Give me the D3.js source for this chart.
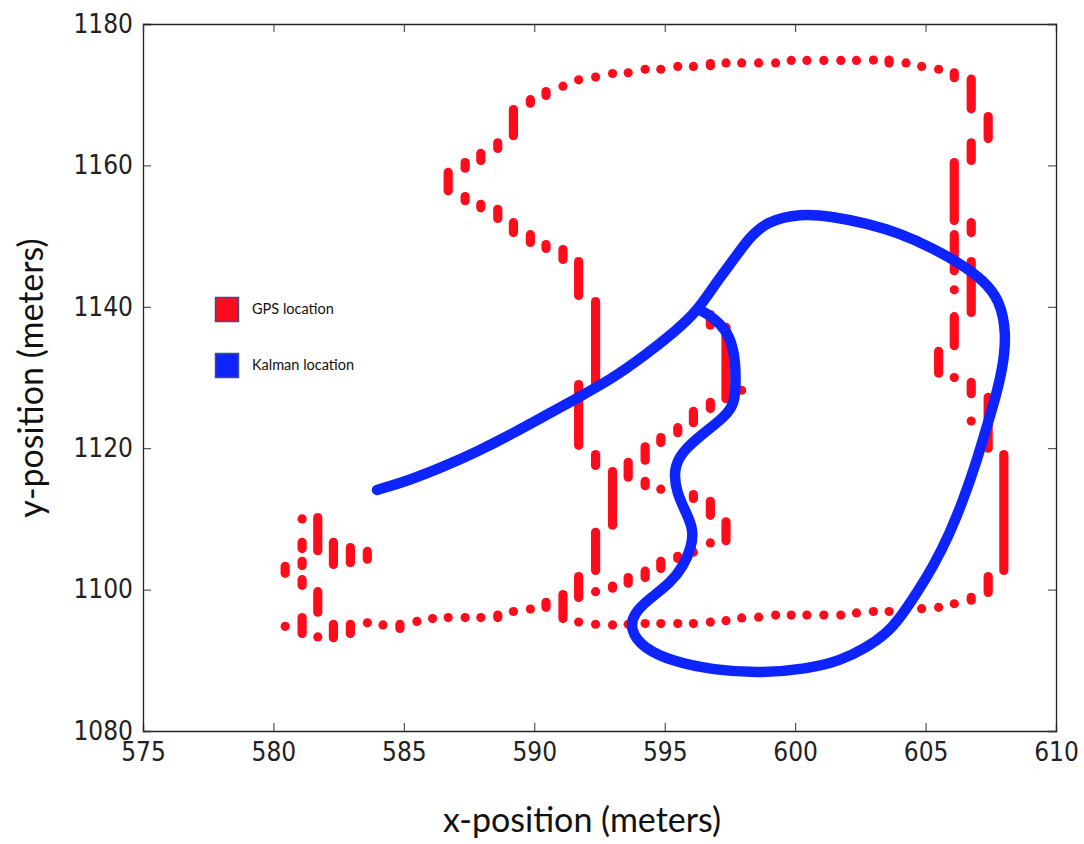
<!DOCTYPE html>
<html>
<head>
<meta charset="utf-8">
<script src="https://cdn.jsdelivr.net/npm/d3@7"></script>
<style>
  html, body { margin: 0; padding: 0; background: #fff; }
  svg { display: block; }
  .tick text { font-family: 'DejaVu Sans Condensed', 'DejaVu Sans', sans-serif; fill: #222; }
</style>
</head>
<body>
<svg id="chart"></svg>
<script>
// GPS fixes: [x, yLow, yHigh] (repeated fixes stack into vertical runs)
const gpsUpperArc = [
  [586.7, 1156.4, 1159.0], [587.35, 1159.6, 1160.4], [587.95, 1160.7, 1161.7],
  [588.6, 1162.4, 1163.2], [589.2, 1164.2, 1167.9], [589.85, 1168.8, 1169.3],
  [590.45, 1169.9, 1170.45], [591.1, 1171.2, 1171.2], [591.7, 1172.1, 1172.1],
  [592.35, 1172.5, 1172.5], [593.0, 1173.0, 1173.0], [593.6, 1173.1, 1173.1],
  [594.25, 1173.6, 1173.6], [594.85, 1173.6, 1173.6], [595.5, 1174.0, 1174.0],
  [596.1, 1174.0, 1174.0], [596.75, 1174.1, 1174.4], [597.35, 1174.5, 1174.5],
  [597.95, 1174.5, 1174.5], [598.6, 1174.5, 1174.5], [599.25, 1174.5, 1174.5],
  [599.85, 1174.85, 1174.85], [600.45, 1174.85, 1174.85], [601.1, 1174.85, 1174.85],
  [601.75, 1174.85, 1174.85], [602.35, 1174.85, 1174.85], [603.0, 1174.9, 1174.9],
  [603.6, 1174.5, 1174.9], [604.25, 1174.5, 1174.5], [604.85, 1174.0, 1174.0],
  [605.5, 1173.6, 1173.6], [606.1, 1172.4, 1173.1]
]
const gpsRightSide = [
  [606.75, 1168.0, 1172.2], [607.4, 1163.8, 1166.9], [606.75, 1160.7, 1163.2],
  [606.1, 1152.2, 1160.4], [606.75, 1150.5, 1151.9], [606.1, 1145.1, 1150.2],
  [606.1, 1142.4, 1142.4], [606.75, 1139.2, 1146.4], [606.1, 1134.5, 1138.6],
  [605.5, 1130.6, 1133.7], [606.1, 1130.0, 1130.0], [606.75, 1127.7, 1129.3],
  [607.4, 1120.0, 1127.2], [606.75, 1123.85, 1123.85], [608.0, 1102.7, 1119.1],
  [607.4, 1099.6, 1101.85], [606.75, 1098.5, 1098.9]
]
const gpsLowerRow = [
  [606.1, 1098.0, 1098.0], [605.5, 1097.5, 1097.5], [604.85, 1097.3, 1097.3],
  [604.25, 1097.2, 1097.2], [603.6, 1096.9, 1096.9], [603.0, 1096.9, 1096.9],
  [602.35, 1096.7, 1096.7], [601.75, 1096.4, 1096.4], [601.1, 1096.4, 1096.4],
  [600.45, 1096.4, 1096.4], [599.85, 1096.4, 1096.4], [599.25, 1096.4, 1096.4],
  [598.6, 1096.1, 1096.1], [597.95, 1096.0, 1096.0], [597.35, 1095.6, 1095.6],
  [596.75, 1095.4, 1095.4], [596.1, 1095.2, 1095.2], [595.5, 1095.2, 1095.2],
  [594.85, 1095.2, 1095.2], [594.25, 1095.2, 1095.2], [593.6, 1095.1, 1095.1],
  [593.0, 1095.0, 1095.0], [592.35, 1095.1, 1095.1], [591.7, 1095.4, 1095.4]
]
const gpsLeftLoop = [
  [580.45, 1102.3, 1103.3], [580.45, 1094.8, 1094.8], [581.1, 1110.0, 1110.0],
  [581.1, 1105.8, 1106.7], [581.1, 1103.4, 1104.0], [581.1, 1100.6, 1101.4],
  [581.1, 1093.8, 1096.05], [581.7, 1105.5, 1110.2], [581.7, 1096.8, 1099.7],
  [581.7, 1093.3, 1093.3], [582.3, 1103.55, 1106.7], [582.3, 1093.2, 1095.1],
  [582.95, 1103.8, 1105.95], [582.95, 1093.8, 1095.1], [583.6, 1104.3, 1105.4],
  [583.6, 1095.3, 1095.3], [584.2, 1095.0, 1095.0], [584.85, 1094.5, 1095.1],
  [585.5, 1095.5, 1095.5], [586.1, 1095.9, 1095.9], [586.7, 1096.05, 1096.05],
  [587.35, 1096.05, 1096.05], [587.95, 1096.05, 1096.05], [588.6, 1096.05, 1096.4],
  [589.2, 1096.9, 1096.9], [589.85, 1097.25, 1097.25], [590.45, 1097.5, 1098.2],
  [591.1, 1095.9, 1099.3], [591.7, 1098.9, 1101.85]
]
const gpsMiddle = [
  [592.35, 1099.7, 1099.7], [592.35, 1102.7, 1108.1], [593.0, 1109.1, 1116.7],
  [593.0, 1100.2, 1100.5], [593.6, 1100.9, 1101.7], [594.25, 1101.7, 1102.6],
  [594.85, 1103.0, 1104.0], [595.5, 1104.4, 1104.7], [596.1, 1105.3, 1105.3],
  [596.75, 1106.6, 1106.6], [597.35, 1106.9, 1109.6], [596.75, 1110.5, 1112.5],
  [596.1, 1112.9, 1113.45], [594.85, 1114.2, 1114.2], [594.25, 1114.7, 1115.3],
  [594.25, 1118.3, 1120.2], [593.6, 1115.9, 1118.0], [592.35, 1117.55, 1119.1],
  [591.7, 1120.4, 1129.0], [592.35, 1129.3, 1140.75], [591.7, 1141.6, 1146.4],
  [594.85, 1120.8, 1121.5], [595.5, 1122.2, 1122.9], [596.1, 1123.6, 1125.2],
  [596.75, 1125.6, 1126.5], [597.35, 1127.0, 1137.1], [597.95, 1128.2, 1128.2],
  [596.75, 1137.4, 1138.9]
]
const gpsUpperDiagonal = [
  [587.35, 1155.0, 1155.6], [587.95, 1154.0, 1154.5], [588.6, 1152.5, 1153.8],
  [589.2, 1150.5, 1151.9], [589.85, 1149.1, 1150.2], [590.45, 1148.25, 1148.8],
  [591.1, 1146.7, 1148.1]
]

// Kalman filtered track
const kalmanX = [
  583.97, 585.24, 586.52, 587.8, 589.07, 590.35, 591.63, 592.9, 594.18, 595.46,
  596.23, 597.04, 597.63, 598.27, 598.91, 600.18, 601.46, 602.74, 604.02, 605.29,
  606.31, 607.21, 607.85, 608.1, 607.97, 607.66, 607.27, 606.89, 606.44, 605.93,
  605.29, 604.66, 604.02, 603.48, 602.71, 601.72, 600.44, 598.65, 596.86, 595.33,
  594.18, 593.67, 593.8, 594.44, 595.2, 595.71, 596.03, 596.1, 595.84, 595.46,
  595.33, 595.65, 596.48, 597.31, 597.69, 597.73, 597.69, 597.5, 597.12, 596.61, 596.3
]
const kalmanY = [
  1114.09, 1115.5, 1117.38, 1119.5, 1121.87, 1124.46, 1127.06, 1129.65, 1132.94, 1136.72,
  1139.31, 1143.79, 1146.62, 1149.92, 1152.04, 1153.22, 1152.74, 1151.81, 1150.4, 1148.27,
  1146.15, 1143.79, 1140.96, 1136.25, 1131.53, 1126.82, 1122.11, 1117.38, 1112.67, 1107.96,
  1103.24, 1099.48, 1095.98, 1093.72, 1091.74, 1089.9, 1088.77, 1088.16, 1088.63, 1089.8,
  1091.7, 1094.29, 1096.65, 1098.77, 1100.89, 1103.24, 1106.07, 1108.43, 1110.79, 1113.62,
  1116.92, 1119.5, 1122.11, 1124.46, 1126.35, 1129.65, 1132.94, 1135.77, 1137.67, 1139.08, 1139.6
]

const xTicks = [575, 580, 585, 590, 595, 600, 605, 610]
const yTicks = [1080, 1100, 1120, 1140, 1160, 1180]
const legendLabels = ['GPS location', 'Kalman location']
const gpsColor = '#ff0c1c'
const kalmanColor = '#0d24ff'

const width = 1084
const height = 844
const margin = { top: 24, right: 28, bottom: 113, left: 143 }

const svg = d3.select('#chart').attr('width', width).attr('height', height)

const x = d3.scaleLinear().domain([575, 610]).range([margin.left, width - margin.right])
const y = d3.scaleLinear().domain([1080, 1180]).range([height - margin.bottom, margin.top])

const plot = svg.append('g').attr('class', 'plot')

// GPS points
const gps = [].concat(gpsUpperArc, gpsRightSide, gpsLowerRow, gpsLeftLoop, gpsMiddle, gpsUpperDiagonal)
const r = 4.6
plot.append('g')
  .selectAll('rect')
  .data(gps)
  .join('rect')
  .attr('x', d => x(d[0]) - r)
  .attr('y', d => y(d[2]) - r)
  .attr('width', 2 * r)
  .attr('height', d => y(d[1]) - y(d[2]) + 2 * r)
  .attr('rx', r)
  .attr('ry', r)
  .attr('fill', gpsColor)

// Kalman line
const line = d3.line()
  .x(d => x(d[0]))
  .y(d => y(d[1]))
  .curve(d3.curveBasis)

plot.append('path')
  .datum(kalmanX.map((v, i) => [v, kalmanY[i]]))
  .attr('d', line)
  .attr('fill', 'none')
  .attr('stroke', kalmanColor)
  .attr('stroke-width', 10.5)
  .attr('stroke-linecap', 'round')
  .attr('stroke-linejoin', 'round')

// AXES (ticks inside, all four sides)
const tickLen = 8
const xAxis = svg.append('g')
  .attr('transform', `translate(0,${y(1080)})`)
  .call(d3.axisBottom(x).tickValues(xTicks).tickSize(-tickLen).tickPadding(12).tickFormat(d3.format('d')))
const yAxis = svg.append('g')
  .attr('transform', `translate(${x(575)},0)`)
  .call(d3.axisLeft(y).tickValues(yTicks).tickSize(-tickLen).tickPadding(10).tickFormat(d3.format('d')))
svg.append('g')
  .attr('transform', `translate(0,${y(1180)})`)
  .call(d3.axisTop(x).tickValues(xTicks).tickSize(-tickLen).tickFormat(''))
svg.append('g')
  .attr('transform', `translate(${x(610)},0)`)
  .call(d3.axisRight(y).tickValues(yTicks).tickSize(-tickLen).tickFormat(''))

svg.selectAll('.domain').attr('stroke', '#222').attr('stroke-width', 1.3)
svg.selectAll('.tick line').attr('stroke', '#333')
xAxis.selectAll('.tick text').attr('font-size', 26)
yAxis.selectAll('.tick text').attr('font-size', 26)

// axis labels
svg.append('text')
  .attr('x', 582)
  .attr('y', 832)
  .attr('text-anchor', 'middle')
  .attr('font-family', 'Lato, sans-serif')
  .attr('font-size', 34)
  .attr('fill', '#111')
  .text('x-position (meters)')
svg.append('text')
  .attr('transform', `translate(43,378) rotate(-90)`)
  .attr('text-anchor', 'middle')
  .attr('font-family', 'Lato, sans-serif')
  .attr('font-size', 34)
  .attr('fill', '#111')
  .text('y-position (meters)')

// LEGEND
const legend = svg.append('g').attr('transform', 'translate(215,297)')
const legendItems = legend.selectAll('g')
  .data(legendLabels)
  .join('g')
  .attr('transform', (d, i) => `translate(0,${i * 56})`)
legendItems.append('rect')
  .attr('x', 0.5)
  .attr('y', 0.5)
  .attr('width', 23)
  .attr('height', 24)
  .attr('fill', (d, i) => (i === 0 ? gpsColor : kalmanColor))
  .attr('stroke', '#3a4f86')
  .attr('stroke-width', 1.5)
legendItems.append('text')
  .attr('x', 37)
  .attr('y', 17)
  .attr('font-family', 'Lato, sans-serif')
  .attr('font-size', 14.5)
  .attr('fill', '#111')
  .text(d => d)
</script>
</body>
</html>
